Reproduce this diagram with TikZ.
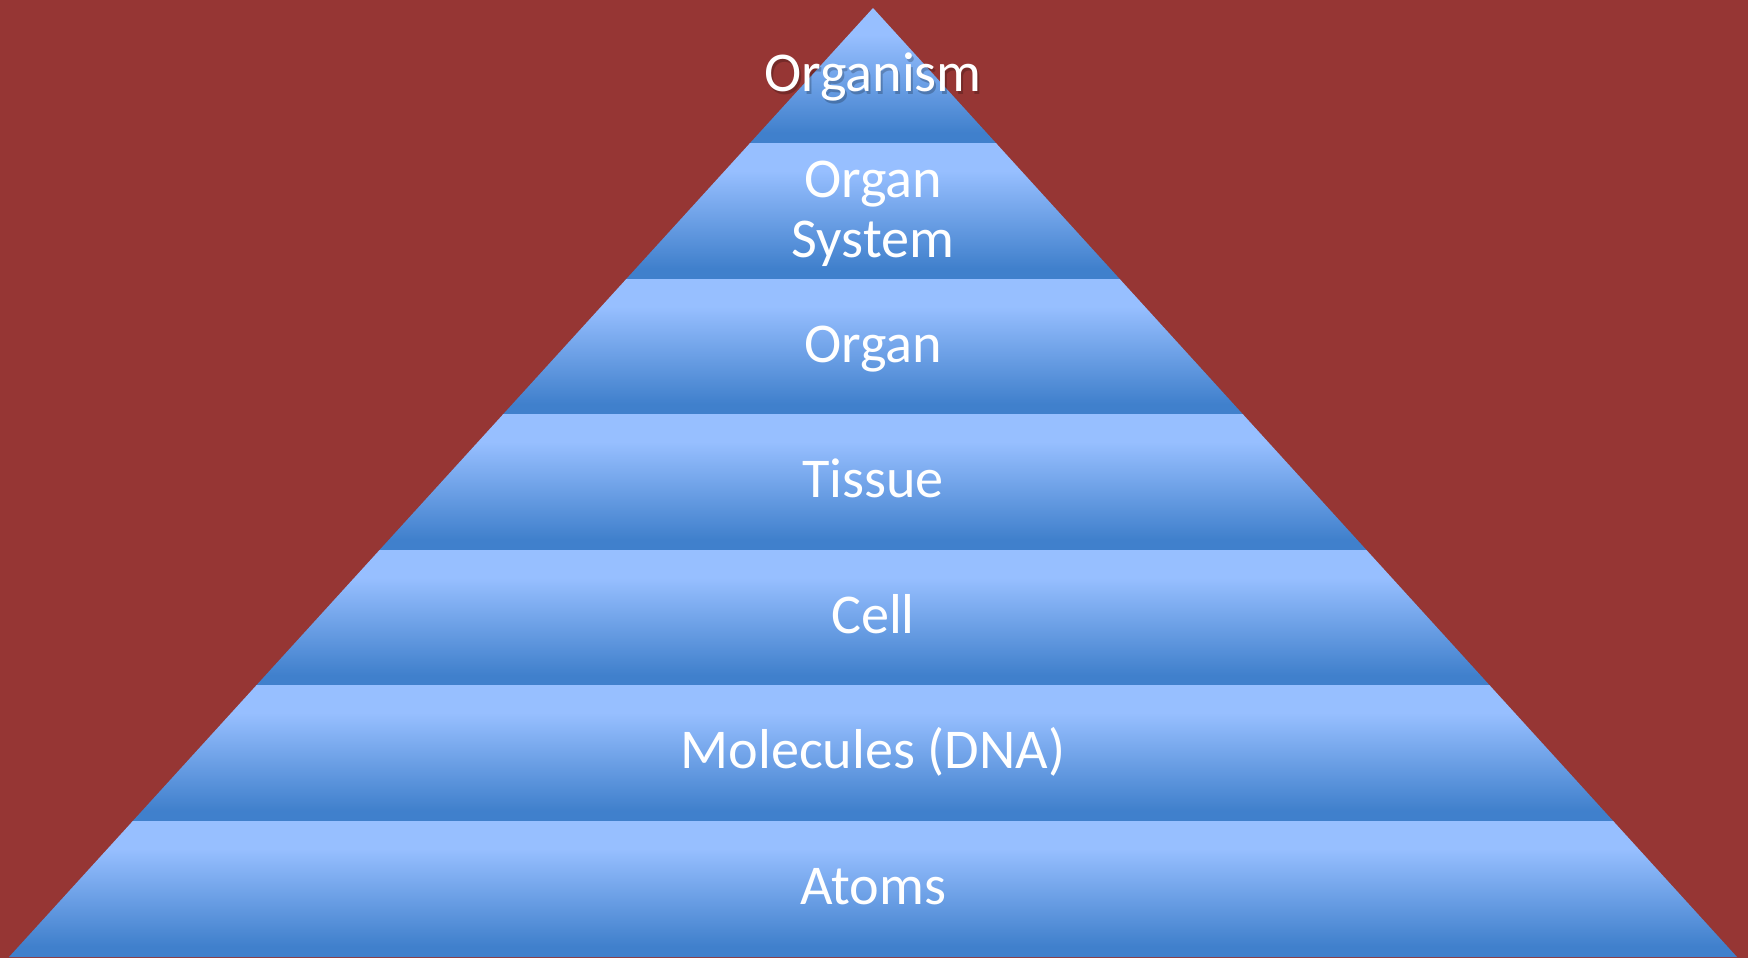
\documentclass[tikz,border=0pt]{standalone}
\usepackage{fontspec}
\setmainfont{Carlito}
\usetikzlibrary{positioning}

\definecolor{bgred}{RGB}{150,54,52}
\definecolor{bandlight}{RGB}{151,191,255}
\definecolor{banddark}{RGB}{64,128,204}
\pgfdeclareverticalshading{bandshade}{100bp}{color(0bp)=(banddark); color(29bp)=(banddark); color(65bp)=(bandlight); color(100bp)=(bandlight)}

\begin{document}
\begin{tikzpicture}[
    x=0.02cm, y=-0.02cm,
    level/.style={font=\fontsize{32}{34}\selectfont, text=white, align=center, anchor=base, inner sep=0pt},
    band/.style={shading=bandshade}
]
    % background
    \fill[bgred] (0,0) rectangle (1748,958);
    \useasboundingbox (0,0) rectangle (1748,958);

    % pyramid bands
    \begin{scope}
        \clip (873,8) -- (1737,957) -- (9,957) -- cycle;
        \foreach \i in {0,...,6}
            \shade[band] (0,{8+\i*135.57}) rectangle (1748,{8+(\i+1)*135.57});
    \end{scope}

    % labels
    \node[level, text=black, opacity=0.22] (organismshadow) at (875,94) {Organism};
    \node[level] (organism) at (873,91) {Organism};
    \node[level] (system) at (873,257) {Organ\\System};
    \node[level] (organ) at (873,362) {Organ};
    \node[level] (tissue) at (873,497) {Tissue};
    \node[level] (cell) at (873,633) {Cell};
    \node[level] (molecules) at (873,768) {Molecules (DNA)};
    \node[level] (atoms) at (873,904) {Atoms};
\end{tikzpicture}
\end{document}
